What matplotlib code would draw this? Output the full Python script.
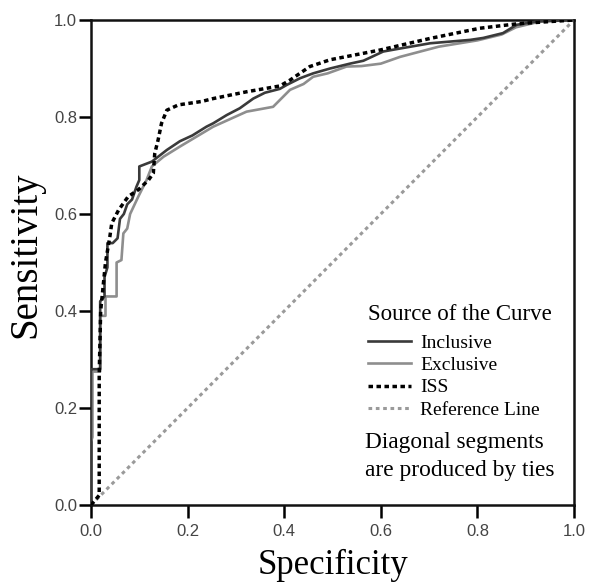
import numpy as np
import matplotlib
matplotlib.use("Agg")
import matplotlib.pyplot as plt

# ROC curves (x = 1 - specificity axis as drawn)
incl_x = [0, 0, 0.019, 0.019, 0.028, 0.028, 0.034, 0.034, 0.045, 0.055, 0.06, 0.068,
          0.075, 0.085, 0.094, 0.1, 0.1, 0.126, 0.157, 0.184, 0.21, 0.239, 0.253, 0.281,
          0.308, 0.322, 0.336, 0.36, 0.391, 0.405, 0.433, 0.46, 0.495, 0.536, 0.564,
          0.605, 0.633, 0.702, 0.785, 0.812, 0.853, 0.881, 0.923, 0.977, 1.0]
incl_y = [0, 0.28, 0.28, 0.42, 0.43, 0.47, 0.49, 0.54, 0.54, 0.55, 0.59, 0.60,
          0.62, 0.63, 0.656, 0.67, 0.698, 0.708, 0.732, 0.75, 0.762, 0.78, 0.787, 0.804,
          0.818, 0.828, 0.838, 0.85, 0.858, 0.866, 0.88, 0.89, 0.9, 0.91, 0.916,
          0.935, 0.94, 0.952, 0.959, 0.963, 0.973, 0.99, 0.997, 0.999, 1.0]

excl_x = [0, 0, 0.003, 0.003, 0.019, 0.019, 0.03, 0.03, 0.053, 0.053, 0.063, 0.067,
          0.075, 0.081, 0.098, 0.115, 0.126, 0.15, 0.184, 0.253, 0.322, 0.377, 0.412,
          0.44, 0.46, 0.49, 0.529, 0.56, 0.6, 0.64, 0.72, 0.8, 0.85, 0.88, 0.93, 1.0]
excl_y = [0, 0.13, 0.14, 0.275, 0.275, 0.39, 0.39, 0.43, 0.43, 0.50, 0.505, 0.56,
          0.57, 0.60, 0.636, 0.67, 0.698, 0.718, 0.739, 0.78, 0.811, 0.821, 0.856,
          0.868, 0.883, 0.89, 0.904, 0.905, 0.91, 0.924, 0.945, 0.958, 0.97, 0.985, 0.997, 1.0]

iss_x = [0, 0.017, 0.017, 0.02, 0.03, 0.039, 0.043, 0.057, 0.077, 0.098, 0.119, 0.129,
         0.132, 0.139, 0.146, 0.157, 0.181, 0.229, 0.253, 0.322, 0.391, 0.412, 0.453,
         0.495, 0.598, 0.702, 0.805, 0.881, 0.923, 1.0]
iss_y = [0, 0.02, 0.27, 0.40, 0.50, 0.553, 0.581, 0.608, 0.636, 0.65, 0.67, 0.684,
         0.725, 0.753, 0.787, 0.814, 0.825, 0.832, 0.838, 0.852, 0.864, 0.876, 0.904,
         0.918, 0.938, 0.962, 0.983, 0.992, 0.995, 1.0]

ref_x = [0, 1]
ref_y = [0, 1]

ticks = [0.0, 0.2, 0.4, 0.6, 0.8, 1.0]

serif = "Liberation Serif"
sans = "Liberation Sans"

fig = plt.figure(figsize=(5.9, 5.82), dpi=100)
ax = fig.add_axes([91 / 590, 77 / 582, 483 / 590, 485 / 582])

ax.plot(incl_x, incl_y, color="#3a3a3a", lw=1.9, label="Inclusive", zorder=4)
ax.plot(excl_x, excl_y, color="#8e8e8e", lw=1.9, label="Exclusive", zorder=3)
ax.plot(iss_x, iss_y, color="black", lw=2.5, ls=(0, (1.3, 1.0)), label="ISS", zorder=5)
ax.plot(ref_x, ref_y, color="#9a9a9a", lw=2.2, ls=(0, (1.2, 1.2)), label="Reference Line", zorder=2)

ax.set_xlim(0, 1)
ax.set_ylim(0, 1)
ax.set_xticks(ticks)
ax.set_yticks(ticks)
ax.set_xticklabels(["%.1f" % t for t in ticks], fontfamily=sans, fontsize=12, color="#444444")
ax.set_yticklabels(["%.1f" % t for t in ticks], fontfamily=sans, fontsize=12, color="#444444")
ax.tick_params(axis="x", direction="out", length=9, width=1.8, pad=5)
ax.tick_params(axis="y", direction="out", length=9, width=1.8, pad=1)
for s in ax.spines.values():
    s.set_linewidth(1.8)
    s.set_color("#111111")

ax.set_xlabel("Specificity", fontfamily=serif, fontsize=25, labelpad=7)
ax.set_ylabel("Sensitivity", fontfamily=serif, fontsize=28)
ax.yaxis.set_label_coords(-0.097, 0.516)

# legend title drawn as its own text so the gap to the entries matches
ax.text(0.573, 0.414, "Source of the Curve", transform=ax.transAxes,
        fontfamily=serif, fontsize=16.5, va="top", ha="left")
leg = ax.legend(loc="upper left", bbox_to_anchor=(0.573, 0.352), frameon=False,
                prop={"family": serif, "size": 14},
                handlelength=2.2, handletextpad=0.5,
                labelspacing=0.24, borderpad=0, borderaxespad=0)

ax.text(0.567, 0.15, "Diagonal segments\nare produced by ties", transform=ax.transAxes,
        fontfamily=serif, fontsize=16.8, va="top", ha="left", linespacing=1.45)

fig.savefig("out.png", dpi=100)
